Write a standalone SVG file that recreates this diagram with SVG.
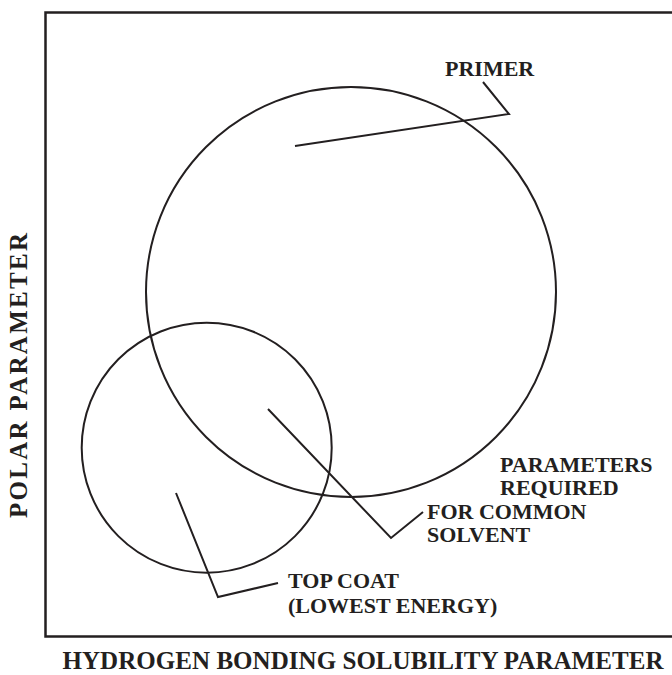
<svg xmlns="http://www.w3.org/2000/svg" width="672" height="675" viewBox="0 0 672 675">
<style>
.ln{fill:none;stroke:#231f20;stroke-width:2;stroke-linecap:butt;stroke-linejoin:miter}
.fr{fill:none;stroke:#231f20;stroke-width:2.5}
.t{font-family:"Liberation Serif","Times New Roman",serif;font-weight:bold;font-size:22px;fill:#231f20}
.ax{font-family:"Liberation Serif","Times New Roman",serif;font-weight:bold;font-size:25px;fill:#231f20}
</style>
<rect width="672" height="675" fill="#ffffff"/>
<g id="frame"><path class="fr" d="M672 12.5H45.5V636.5H672"/></g>
<g id="primer-region"><circle class="ln" cx="351" cy="292" r="205"/></g>
<g id="topcoat-region"><circle class="ln" cx="206.7" cy="447.7" r="125"/></g>
<g id="connectors">
<polyline class="ln" points="295,146 509,114 483,82"/>
<polyline class="ln" points="268,409 391,538 423,512"/>
<polyline class="ln" points="176,493 218,597 278,583"/>
</g>
<g id="label-primer"><text class="t" x="445" y="76">PRIMER</text></g>
<g id="label-common">
<text class="t" x="500" y="472">PARAMETERS</text>
<text class="t" x="500" y="495">REQUIRED</text>
<text class="t" x="427" y="519">FOR COMMON</text>
<text class="t" x="427" y="542">SOLVENT</text>
</g>
<g id="label-topcoat">
<text class="t" x="288" y="588">TOP COAT</text>
<text class="t" x="288" y="613">(LOWEST ENERGY)</text>
</g>
<g id="axis-y"><text class="ax" transform="translate(27,375.5) rotate(-90)" text-anchor="middle" textLength="285" lengthAdjust="spacing">POLAR  PARAMETER</text></g>
<g id="axis-x"><text class="ax" x="363" y="669" text-anchor="middle" textLength="601" lengthAdjust="spacing">HYDROGEN BONDING SOLUBILITY PARAMETER</text></g>
</svg>
